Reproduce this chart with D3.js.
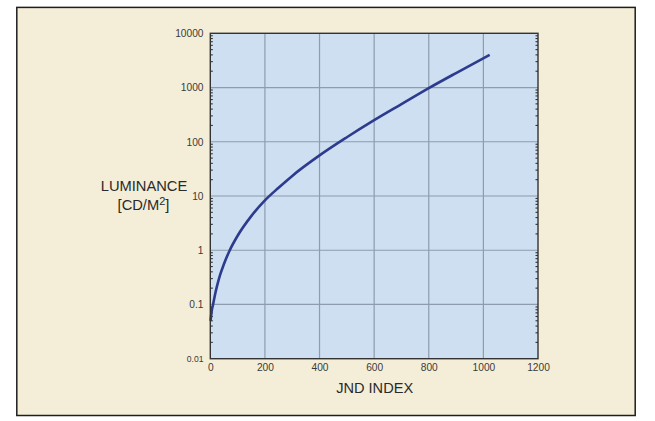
<!DOCTYPE html>
<html>
<head>
<meta charset="utf-8">
<script src="https://cdn.jsdelivr.net/npm/d3@7"></script>
<style>
  html, body { margin: 0; padding: 0; background: #ffffff; }
  svg { display: block; }
  text { font-family: "Liberation Sans", Arial, Helvetica, sans-serif; }
</style>
</head>
<body>
<svg id="chart" width="655" height="421"></svg>
<script>
// ---- data ----
const jndIndex  = [1, 5, 10, 18, 25, 35, 50, 70, 100, 150, 200, 250, 300, 400, 500, 600, 700, 800, 900, 1023];
const luminance = [0.05, 0.075, 0.099, 0.158, 0.222, 0.34, 0.557, 0.97, 1.85, 4.26, 8.3, 14.2, 23.5, 56, 121, 250, 495, 975, 1850, 3990];

const xTicks = [0, 200, 400, 600, 800, 1000, 1200];
const xTickLabels = ["0", "200", "400", "600", "800", "1000", "1200"];
const yTicks = [0.01, 0.1, 1, 10, 100, 1000, 10000];
const yTickLabels = ["0.01", "0.1", "1", "10", "100", "1000", "10000"];

const xTitle = "JND INDEX";
const yTitleLine1 = "LUMINANCE";
const yTitleLine2 = "[CD/M";
const yTitleSup = "2";
const yTitleEnd = "]";

// ---- layout ----
const svg = d3.select("#chart");
const L = 210.3, R = 538, T = 33.3, B = 358.7;

const x = d3.scaleLinear().domain([0, 1200]).range([L, R]);
const y = d3.scaleLog().domain([0.01, 10000]).range([B, T]);

// outer frame
svg.append("rect")
  .attr("x", 16.8).attr("y", 7.4)
  .attr("width", 635.2 - 16.8).attr("height", 415.5 - 7.4)
  .attr("fill", "#f4eed8")
  .attr("stroke", "#1e1e1e").attr("stroke-width", 1.5);

// plot background
svg.append("rect")
  .attr("x", L).attr("y", T)
  .attr("width", R - L).attr("height", B - T)
  .attr("fill", "#cddff0");

// grid
const grid = svg.append("g").attr("stroke", "#8e9cae").attr("stroke-width", 1.2);
grid.selectAll("line.v").data(xTicks.slice(1, -1)).join("line")
  .attr("x1", d => x(d)).attr("x2", d => x(d))
  .attr("y1", T).attr("y2", B);
grid.selectAll("line.h").data(yTicks.slice(1, -1)).join("line")
  .attr("y1", d => y(d)).attr("y2", d => y(d))
  .attr("x1", L).attr("x2", R);

// minor log ticks on left and right edges
const minor = [];
for (let e = -2; e < 4; e++) for (let m = 2; m <= 9; m++) minor.push(m * Math.pow(10, e));
const mt = svg.append("g").attr("stroke", "#333").attr("stroke-width", 1.1);
mt.selectAll("line.l").data(minor).join("line")
  .attr("x1", L).attr("x2", L + 2.5)
  .attr("y1", d => y(d)).attr("y2", d => y(d));
mt.selectAll("line.r").data(minor).join("line")
  .attr("x1", R - 2.5).attr("x2", R)
  .attr("y1", d => y(d)).attr("y2", d => y(d));

// curve
const pts = jndIndex.map((j, i) => [j, luminance[i]]);
svg.append("path")
  .datum(pts)
  .attr("fill", "none")
  .attr("stroke", "#2d3b8e")
  .attr("stroke-width", 2.6)
  .attr("stroke-linecap", "butt")
  .attr("d", d3.line().x(d => x(d[0])).y(d => y(d[1])).curve(d3.curveMonotoneX));

// plot border
svg.append("rect")
  .attr("x", L).attr("y", T)
  .attr("width", R - L).attr("height", B - T)
  .attr("fill", "none")
  .attr("stroke", "#333").attr("stroke-width", 1.4);

// axes (labels only)
const xAxis = svg.append("g").attr("transform", `translate(0,${B})`)
  .call(d3.axisBottom(x).tickValues(xTicks).tickFormat((d, i) => xTickLabels[i]).tickSize(0).tickPadding(5.2));
xAxis.select(".domain").remove();
xAxis.selectAll("text").attr("font-size", 10.2).attr("fill", "#3a3a3a")
  .attr("font-family", "'Liberation Sans', Arial, sans-serif");

const yAxis = svg.append("g").attr("transform", `translate(${L},0)`)
  .call(d3.axisLeft(y).tickValues(yTicks).tickFormat((d, i) => yTickLabels[i]).tickSize(0).tickPadding(6.8));
yAxis.select(".domain").remove();
yAxis.selectAll("text").attr("font-size", (d, i) => i === 0 ? 8.6 : 10.2).attr("fill", "#3a3a3a")
  .attr("font-family", "'Liberation Sans', Arial, sans-serif");

// axis titles
svg.append("text")
  .attr("x", (L + R) / 2 + 0.5).attr("y", 392.5)
  .attr("text-anchor", "middle")
  .attr("font-size", 14.6).attr("fill", "#2a2a2a")
  .text(xTitle);

svg.append("text")
  .attr("x", 144).attr("y", 190.7)
  .attr("text-anchor", "middle")
  .attr("font-size", 14.7).attr("fill", "#2a2a2a")
  .text(yTitleLine1);

const t2 = svg.append("text")
  .attr("x", 143.5).attr("y", 210)
  .attr("text-anchor", "middle")
  .attr("font-size", 14.7).attr("fill", "#2a2a2a");
t2.append("tspan").text(yTitleLine2);
t2.append("tspan").attr("dy", -5).attr("font-size", 11).text(yTitleSup);
t2.append("tspan").attr("dy", 5).text(yTitleEnd);
</script>
</body>
</html>
